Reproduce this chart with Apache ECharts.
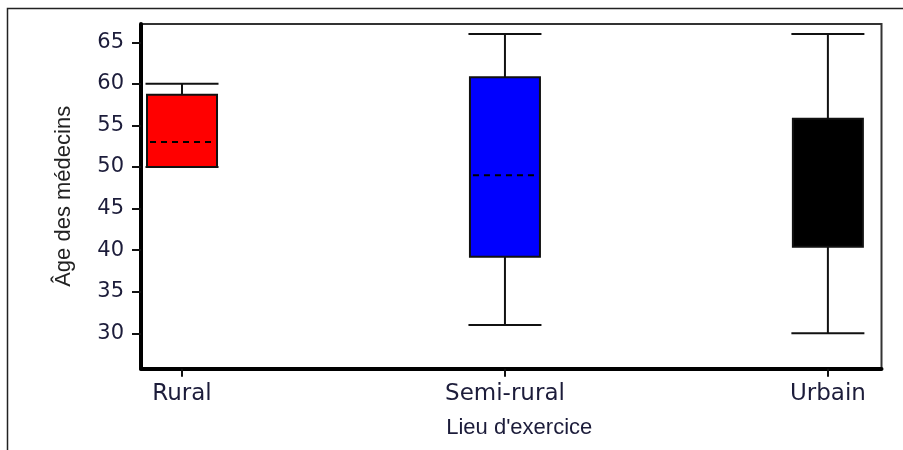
<!DOCTYPE html>
<html>
<head>
<meta charset="utf-8">
<script src="https://cdn.jsdelivr.net/npm/echarts@6/dist/echarts.min.js"></script>
<style>
html,body{margin:0;padding:0;background:#fff;}
#chart{width:903px;height:450px;}
</style>
</head>
<body>
<div id="chart"></div>
<script>
const categories = ['Rural', 'Semi-rural', 'Urbain'];
const whiskerLow = [50, 31, 30];
const q1 = [50, 39.2, 40.4];
const median = [53, 49, null];
const q3 = [58.7, 60.8, 55.8];
const whiskerHigh = [60, 66, 66];
const boxColors = ['#ff0000', '#0000ff', '#000000'];
const yTicks = [30, 35, 40, 45, 50, 55, 60, 65];
const xTicks = [1, 2, 3];

const boxData = categories.map((c, i) => [i + 1, whiskerLow[i], q1[i], median[i] == null ? NaN : median[i], q3[i], whiskerHigh[i]]);

const chart = echarts.init(document.getElementById('chart'), null, {renderer: 'canvas'});

const BOX_W = 70, CAP_W = 73;

function renderItem(params, api) {
  const idx = params.dataIndex;
  const x = api.value(0);
  const lo = api.coord([x, api.value(1)]);
  const b1 = api.coord([x, api.value(2)]);
  const medV = api.value(3);
  const b3 = api.coord([x, api.value(4)]);
  const hi = api.coord([x, api.value(5)]);
  const cx = lo[0];
  const lineStyle = {stroke: '#111', lineWidth: 2, fill: null};
  const children = [];
  children.push({type: 'line', shape: {x1: cx, y1: lo[1], x2: cx, y2: b1[1]}, style: lineStyle});
  children.push({type: 'line', shape: {x1: cx, y1: b3[1], x2: cx, y2: hi[1]}, style: lineStyle});
  children.push({type: 'line', shape: {x1: cx - CAP_W / 2, y1: lo[1], x2: cx + CAP_W / 2, y2: lo[1]}, style: lineStyle});
  children.push({type: 'line', shape: {x1: cx - CAP_W / 2, y1: hi[1], x2: cx + CAP_W / 2, y2: hi[1]}, style: lineStyle});
  children.push({type: 'rect', shape: {x: cx - BOX_W / 2, y: b3[1], width: BOX_W, height: b1[1] - b3[1]},
    style: {fill: boxColors[idx], stroke: '#111', lineWidth: 2}});
  if (!isNaN(medV)) {
    const m = api.coord([x, medV]);
    children.push({type: 'line', shape: {x1: cx - BOX_W / 2 + 3, y1: m[1], x2: cx + BOX_W / 2 - 3, y2: m[1]},
      style: {stroke: '#000', lineWidth: 2, lineDash: [6, 5], fill: null}});
  }
  return {type: 'group', children: children};
}

const option = {
  backgroundColor: '#ffffff',
  animation: false,
  graphic: [{
    type: 'rect', z: -10, silent: true,
    shape: {x: 7.5, y: 8.5, width: 1000, height: 1000},
    style: {fill: null, stroke: '#222', lineWidth: 1.5}
  }],
  grid: {left: 141, top: 24, right: 21.5, bottom: 81.3, show: true, borderColor: '#333', borderWidth: 2, backgroundColor: 'transparent'},
  xAxis: {
    type: 'value', min: 0.873, max: 3.166,
    splitLine: {show: false},
    axisLine: {show: true, onZero: false, lineStyle: {color: '#000', width: 4}},
    axisTick: {show: true, customValues: xTicks, length: 8, lineStyle: {color: '#111', width: 2}},
    axisLabel: {customValues: xTicks, formatter: v => categories[Math.round(v) - 1], margin: 14,
      fontFamily: 'DejaVu Sans', fontSize: 23, color: '#1c1c3a'},
    name: "Lieu d'exercice", nameLocation: 'middle', nameGap: 48,
    nameTextStyle: {fontFamily: 'Liberation Sans', fontSize: 22, color: '#1c1c3a', padding: [0, 0, 0, 16]}
  },
  yAxis: {
    type: 'value', min: 25.74, max: 67.2,
    splitLine: {show: false},
    axisLine: {show: true, onZero: false, lineStyle: {color: '#000', width: 4}},
    axisTick: {show: true, customValues: yTicks, length: 9, lineStyle: {color: '#111', width: 2}},
    axisLabel: {customValues: yTicks, margin: 17, fontFamily: 'DejaVu Sans', fontSize: 21, color: '#1c1c3a'},
    name: 'Âge des médecins', nameLocation: 'middle', nameGap: 66,
    nameTextStyle: {fontFamily: 'Liberation Sans', fontSize: 22, color: '#222'}
  },
  series: [{
    type: 'custom',
    renderItem: renderItem,
    encode: {x: 0, y: [1, 2, 3, 4, 5]},
    data: boxData,
    clip: false
  }]
};
chart.setOption(option);
</script>
</body>
</html>
